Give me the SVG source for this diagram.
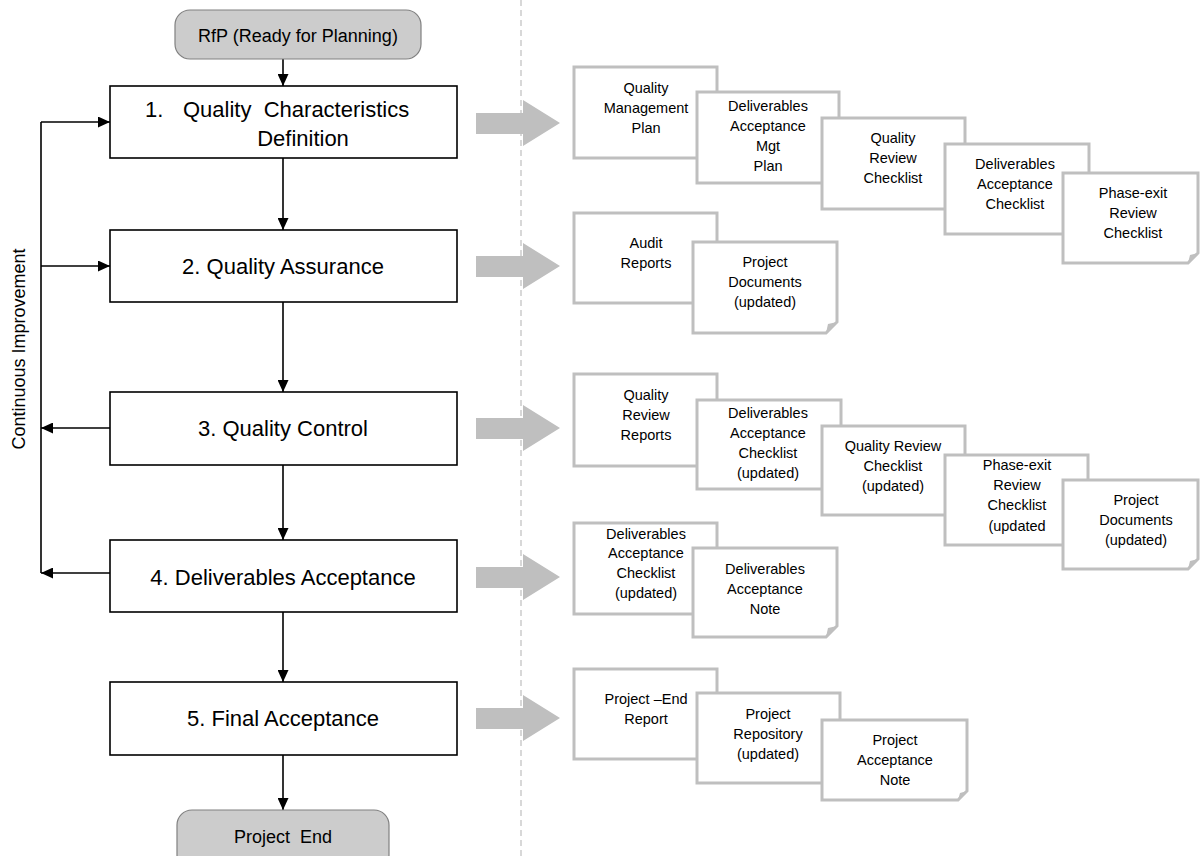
<svg xmlns="http://www.w3.org/2000/svg" width="1200" height="856" viewBox="0 0 1200 856">
<style>
  .term { fill: #cccccc; stroke: #808080; stroke-width: 1.2; }
  .box { fill: #ffffff; stroke: #000000; stroke-width: 1.6; }
  .doc { fill: #ffffff; stroke: #bfbfbf; stroke-width: 3; stroke-linejoin: miter; }
  .fold { fill: #bfbfbf; stroke: none; }
  .big { fill: #bfbfbf; }
  .t18 { font-family: "Liberation Sans", Arial, sans-serif; font-size: 18px; fill: #000; text-anchor: middle; }
  .t22 { font-family: "Liberation Sans", Arial, sans-serif; font-size: 22px; fill: #000; text-anchor: middle; }
  .t22s { font-family: "Liberation Sans", Arial, sans-serif; font-size: 22px; fill: #000; text-anchor: start; white-space: pre; }
  .td { font-family: "Liberation Sans", Arial, sans-serif; font-size: 14.5px; fill: #000; text-anchor: middle; }
  .ln { stroke: #000; stroke-width: 1.6; fill: none; }
  .dash { stroke: #bfbfbf; stroke-width: 1.2; stroke-dasharray: 6 4; fill: none; }
</style>
<defs>
  <marker id="ah" markerUnits="userSpaceOnUse" markerWidth="12" markerHeight="11" refX="12" refY="5.5" orient="auto">
    <path d="M0,0 L12,5.5 L0,11 Z" fill="#000"/>
  </marker>
</defs>

<rect width="1200" height="856" fill="#ffffff"/>

<line class="dash" x1="521" y1="0" x2="521" y2="856"/>

<g id="connectors">
  <line class="ln" x1="283" y1="59" x2="283" y2="86" marker-end="url(#ah)"/>
  <line class="ln" x1="283" y1="158" x2="283" y2="230" marker-end="url(#ah)"/>
  <line class="ln" x1="283" y1="302" x2="283" y2="392" marker-end="url(#ah)"/>
  <line class="ln" x1="283" y1="465" x2="283" y2="540" marker-end="url(#ah)"/>
  <line class="ln" x1="283" y1="612" x2="283" y2="682" marker-end="url(#ah)"/>
  <line class="ln" x1="283" y1="755" x2="283" y2="810" marker-end="url(#ah)"/>
  <line class="ln" x1="41" y1="122" x2="41" y2="573"/>
  <line class="ln" x1="41" y1="122" x2="110" y2="122" marker-end="url(#ah)"/>
  <line class="ln" x1="41" y1="266" x2="110" y2="266" marker-end="url(#ah)"/>
  <line class="ln" x1="110" y1="428" x2="41" y2="428" marker-end="url(#ah)"/>
  <line class="ln" x1="110" y1="573" x2="41" y2="573" marker-end="url(#ah)"/>
  <text class="t18" transform="translate(25,349) rotate(-90)" font-size="17.5">Continuous Improvement</text>
  <path class="big" d="M476,113 H523 V100 L560,123 L523,146 V134 H476 Z"/>
  <path class="big" d="M476,256 H523 V243 L560,266 L523,289 V277 H476 Z"/>
  <path class="big" d="M476,418 H523 V405 L560,428 L523,451 V439 H476 Z"/>
  <path class="big" d="M476,567 H523 V554 L560,577 L523,600 V588 H476 Z"/>
  <path class="big" d="M476,708 H523 V695 L560,718 L523,741 V729 H476 Z"/>
</g>

<g id="start">
  <rect class="term" x="175" y="10" width="246" height="49" rx="15"/>
  <text class="t18" x="298" y="42">RfP (Ready for Planning)</text>
</g>

<g id="step1">
  <rect class="box" x="110" y="86" width="347" height="72"/>
  <text class="t22s" x="145" y="117">1.</text>
  <text class="t22s" x="183" y="117">Quality  Characteristics</text>
  <text class="t22" x="303" y="146">Definition</text>
</g>
<g id="step2">
  <rect class="box" x="110" y="230" width="347" height="72"/>
  <text class="t22" x="283" y="274">2. Quality Assurance</text>
</g>
<g id="step3">
  <rect class="box" x="110" y="392" width="347" height="73"/>
  <text class="t22" x="283" y="436">3. Quality Control</text>
</g>
<g id="step4">
  <rect class="box" x="110" y="540" width="347" height="72"/>
  <text class="t22" x="283" y="585">4. Deliverables Acceptance</text>
</g>
<g id="step5">
  <rect class="box" x="110" y="682" width="347" height="73"/>
  <text class="t22" x="283" y="726">5. Final Acceptance</text>
</g>

<g id="end">
  <rect class="term" x="177" y="810" width="212" height="60" rx="15"/>
  <text class="t18" x="283" y="843" style="white-space: pre">Project  End</text>
</g>

<!-- Row 1 documents -->
<g id="doc-qmp">
  <rect class="doc" x="574" y="67" width="143" height="91"/>
  <text class="td" x="646" y="93">Quality</text>
  <text class="td" x="646" y="113">Management</text>
  <text class="td" x="646" y="133">Plan</text>
</g>
<g id="doc-damp">
  <rect class="doc" x="697" y="92" width="142" height="91"/>
  <text class="td" x="768" y="111">Deliverables</text>
  <text class="td" x="768" y="131">Acceptance</text>
  <text class="td" x="768" y="151">Mgt</text>
  <text class="td" x="768" y="171">Plan</text>
</g>
<g id="doc-qrc">
  <rect class="doc" x="822" y="118" width="143" height="91"/>
  <text class="td" x="893" y="143">Quality</text>
  <text class="td" x="893" y="163">Review</text>
  <text class="td" x="893" y="183">Checklist</text>
</g>
<g id="doc-dac">
  <rect class="doc" x="945" y="144" width="144" height="90"/>
  <text class="td" x="1015" y="169">Deliverables</text>
  <text class="td" x="1015" y="189">Acceptance</text>
  <text class="td" x="1015" y="209">Checklist</text>
</g>
<g id="doc-perc">
  <path class="doc" d="M1063,173 H1198 V253 L1188,263 H1063 Z"/>
  <path class="fold" d="M1198,253 L1188,263 L1190,255 Z"/>
  <text class="td" x="1133" y="198">Phase-exit</text>
  <text class="td" x="1133" y="218">Review</text>
  <text class="td" x="1133" y="238">Checklist</text>
</g>

<!-- Row 2 documents -->
<g id="doc-audit">
  <rect class="doc" x="574" y="213" width="143" height="90"/>
  <text class="td" x="646" y="248">Audit</text>
  <text class="td" x="646" y="268">Reports</text>
</g>
<g id="doc-pd1">
  <path class="doc" d="M693,242 H837 V322 L826,333 H693 Z"/>
  <path class="fold" d="M837,322 L826,333 L828,324 Z"/>
  <text class="td" x="765" y="267">Project</text>
  <text class="td" x="765" y="287">Documents</text>
  <text class="td" x="765" y="307">(updated)</text>
</g>

<!-- Row 3 documents -->
<g id="doc-qrr">
  <rect class="doc" x="574" y="374" width="143" height="92"/>
  <text class="td" x="646" y="400">Quality</text>
  <text class="td" x="646" y="420">Review</text>
  <text class="td" x="646" y="440">Reports</text>
</g>
<g id="doc-dac2">
  <rect class="doc" x="697" y="400" width="144" height="89"/>
  <text class="td" x="768" y="418">Deliverables</text>
  <text class="td" x="768" y="438">Acceptance</text>
  <text class="td" x="768" y="458">Checklist</text>
  <text class="td" x="768" y="478">(updated)</text>
</g>
<g id="doc-qrc2">
  <rect class="doc" x="822" y="426" width="143" height="89"/>
  <text class="td" x="893" y="451">Quality Review</text>
  <text class="td" x="893" y="471">Checklist</text>
  <text class="td" x="893" y="491">(updated)</text>
</g>
<g id="doc-perc2">
  <rect class="doc" x="945" y="455" width="143" height="90"/>
  <text class="td" x="1017" y="470">Phase-exit</text>
  <text class="td" x="1017" y="490">Review</text>
  <text class="td" x="1017" y="510">Checklist</text>
  <text class="td" x="1017" y="531">(updated</text>
</g>
<g id="doc-pd2">
  <path class="doc" d="M1063,480 H1198 V559 L1188,569 H1063 Z"/>
  <path class="fold" d="M1198,559 L1188,569 L1190,561 Z"/>
  <text class="td" x="1136" y="505">Project</text>
  <text class="td" x="1136" y="525">Documents</text>
  <text class="td" x="1136" y="545">(updated)</text>
</g>

<!-- Row 4 documents -->
<g id="doc-dac3">
  <rect class="doc" x="574" y="523" width="143" height="91"/>
  <text class="td" x="646" y="539">Deliverables</text>
  <text class="td" x="646" y="558">Acceptance</text>
  <text class="td" x="646" y="578">Checklist</text>
  <text class="td" x="646" y="598">(updated)</text>
</g>
<g id="doc-dan">
  <path class="doc" d="M693,548 H837 V626 L826,637 H693 Z"/>
  <path class="fold" d="M837,626 L826,637 L828,628 Z"/>
  <text class="td" x="765" y="574">Deliverables</text>
  <text class="td" x="765" y="594">Acceptance</text>
  <text class="td" x="765" y="614">Note</text>
</g>

<!-- Row 5 documents -->
<g id="doc-per">
  <rect class="doc" x="574" y="669" width="143" height="90"/>
  <text class="td" x="646" y="704">Project –End</text>
  <text class="td" x="646" y="724">Report</text>
</g>
<g id="doc-repo">
  <rect class="doc" x="697" y="693" width="143" height="90"/>
  <text class="td" x="768" y="719">Project</text>
  <text class="td" x="768" y="739">Repository</text>
  <text class="td" x="768" y="759">(updated)</text>
</g>
<g id="doc-pan">
  <path class="doc" d="M822,720 H967 V791 L958,800 H822 Z"/>
  <path class="fold" d="M967,791 L958,800 L960,793 Z"/>
  <text class="td" x="895" y="745">Project</text>
  <text class="td" x="895" y="765">Acceptance</text>
  <text class="td" x="895" y="785">Note</text>
</g>
</svg>
